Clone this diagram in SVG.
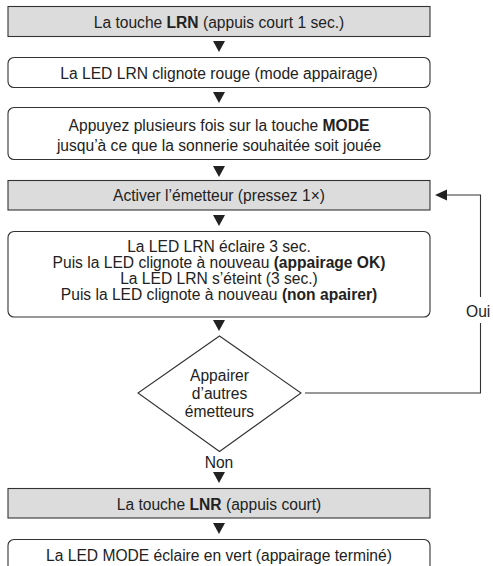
<svg xmlns="http://www.w3.org/2000/svg" width="493" height="566" viewBox="0 0 493 566">
<style>
text{font-family:"Liberation Sans",Arial,sans-serif;font-size:15.6px;fill:#222;text-anchor:middle}
.b{font-weight:bold}
.g{fill:#dcdcdc;stroke:#333;stroke-width:1.1}
.w{fill:#fff;stroke:#333;stroke-width:1.1}
.ln{fill:none;stroke:#333;stroke-width:1.1}
.ah{fill:#222}
</style>
<rect width="493" height="566" fill="#fff"/>
<g id="connectors">
<polygon class="ah" points="213,41 225,41 219,52"/>
<polygon class="ah" points="213,92 225,92 219,103"/>
<polygon class="ah" points="213,166 225,166 219,177"/>
<polygon class="ah" points="213,215 225,215 219,226"/>
<polygon class="ah" points="213,320 225,320 219,331"/>
<polygon class="ah" points="213,472 225,472 219,483"/>
<polygon class="ah" points="213,523 225,523 219,534"/>
<polyline class="ln" points="305,393 480.5,393 480.5,323"/>
<polyline class="ln" points="480.5,297 480.5,195 446,195"/>
<polygon class="ah" points="435,195 447,189.5 447,200.5"/>
<text x="466" y="317" style="text-anchor:start">Oui</text>
<text x="219" y="468">Non</text>
</g>
<g id="n1">
<rect class="g" x="8" y="6.5" width="422" height="30"/>
<text x="219" y="28">La touche <tspan class="b">LRN</tspan> (appuis court 1 sec.)</text>
</g>
<g id="n2">
<rect class="w" x="8" y="57.5" width="422" height="30" rx="6"/>
<text x="219" y="79">La LED LRN clignote rouge (mode appairage)</text>
</g>
<g id="n3">
<rect class="w" x="8" y="107.5" width="422" height="52" rx="6"/>
<text x="219" y="130.5">Appuyez plusieurs fois sur la touche <tspan class="b">MODE</tspan></text>
<text x="219" y="151">jusqu’à ce que la sonnerie souhaitée soit jouée</text>
</g>
<g id="n4">
<rect class="g" x="8" y="180.5" width="422" height="29.5"/>
<text x="219" y="201">Activer l’émetteur (pressez 1×)</text>
</g>
<g id="n5">
<rect class="w" x="8" y="231.5" width="422" height="85.5" rx="6"/>
<text x="219" y="252.3">La LED LRN éclaire 3 sec.</text>
<text x="219" y="268.2">Puis la LED clignote à nouveau <tspan class="b">(appairage OK)</tspan></text>
<text x="219" y="284.1">La LED LRN s’éteint (3 sec.)</text>
<text x="219" y="300">Puis la LED clignote à nouveau <tspan class="b">(non apairer)</tspan></text>
</g>
<g id="n6">
<polygon class="w" points="219.5,336 301,393 219.5,451.5 138,393"/>
<text x="219.5" y="380.7">Appairer</text>
<text x="219.5" y="398.8">d’autres</text>
<text x="219.5" y="416.8">émetteurs</text>
</g>
<g id="n7">
<rect class="g" x="8" y="488.5" width="422" height="29.5"/>
<text x="219" y="509.5">La touche <tspan class="b">LNR</tspan> (appuis court)</text>
</g>
<g id="n8">
<rect class="w" x="8" y="539.5" width="422" height="32" rx="6"/>
<text x="219" y="561">La LED MODE éclaire en vert (appairage terminé)</text>
</g>
</svg>
